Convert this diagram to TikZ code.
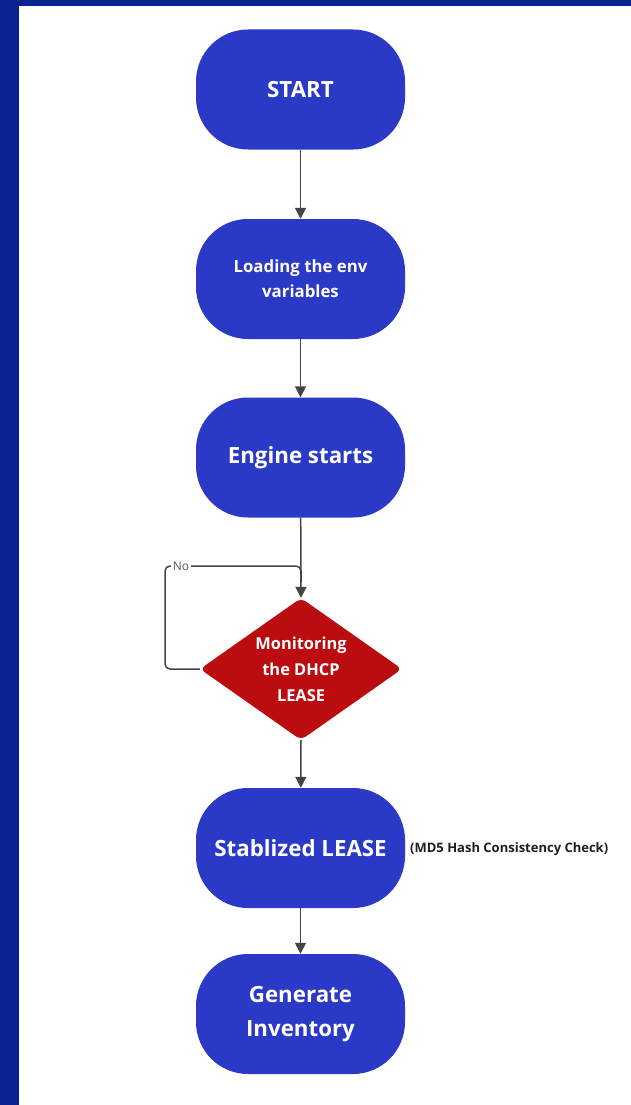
\documentclass[tikz,border=0pt]{standalone}
\usepackage{fontspec}
\setmainfont{Open Sans}
\usetikzlibrary{arrows.meta,shapes.geometric}
\definecolor{frameblue}{HTML}{0B2390}
\definecolor{boxblue}{HTML}{2B39C7}
\definecolor{decred}{HTML}{BB0D10}
\definecolor{linegray}{HTML}{444444}
\tikzset{
  pill/.style={draw=none, fill=boxblue, text=white, font=\bfseries\fontsize{22.3}{30}\selectfont,
    minimum width=209pt, minimum height=120pt, rounded corners=52pt, align=center, inner sep=0pt},
  pillsmall/.style={pill, font=\bfseries\fontsize{16.8}{25}\selectfont},
  decision/.style={diamond, draw=none, fill=decred, minimum width=202pt, minimum height=142pt,
    inner sep=0pt, rounded corners=6pt},
  decisiontext/.style={text=white, align=center, inner sep=0pt, font=\bfseries\fontsize{16.4}{26}\selectfont},
  flow/.style={draw=linegray, line width=1.5pt, -{Triangle[length=11pt,width=11pt]}},
  loopline/.style={draw=linegray, line width=1.5pt, rounded corners=5pt},
  note/.style={font=\bfseries\fontsize{13}{15}\selectfont, text=black!88, inner sep=0pt, anchor=west},
  tag/.style={font=\fontsize{12}{14}\selectfont, text=black!65, fill=white, inner sep=2pt}
}
\begin{document}
\begin{tikzpicture}[x=1pt,y=-1pt]
  % page and frame bands
  \useasboundingbox (0,0) rectangle (631,1105);
  \fill[white] (0,0) rectangle (631,1105);
  \fill[frameblue] (0,0) rectangle (631,6);
  \fill[frameblue] (0,0) rectangle (19,1105);

  % process steps
  \node[pill] (start) at (300.5,89.5) {START};
  \node[pillsmall] (load) at (300.5,279) {Loading the env\\variables};
  \node[pill] (engine) at (300.5,457.5) {Engine starts};
  \node[decision] (mon) at (301,669) {};
  \node[decisiontext] (montext) at (mon.center) {Monitoring\\the DHCP\\LEASE};
  \node[pill] (stable) at (300.5,848) {Stablized LEASE};
  \node[pill, font=\bfseries\fontsize{22.3}{34}\selectfont] (gen) at (300.5,1014) {Generate\\Inventory};
  \node[note] (md5) at (410,849) {(MD5 Hash Consistency Check)};

  % retry loop back into the decision
  \coordinate (lb) at (165,669);
  \coordinate (lt) at (165,566);
  \coordinate (lj) at (301,566);
  \coordinate (ld) at (301,582);
  \draw[loopline] (mon.west) -- (lb) -- (lt) -- (lj) -- (ld);
  \node[tag] (no) at (181,566) {No};

  % main flow
  \draw[flow] (start) -- (load);
  \draw[flow] (load) -- (engine);
  \draw[flow] (engine) -- (mon.north);
  \draw[flow] (mon.south) -- (stable);
  \draw[flow] (stable) -- (gen);
\end{tikzpicture}
\end{document}
